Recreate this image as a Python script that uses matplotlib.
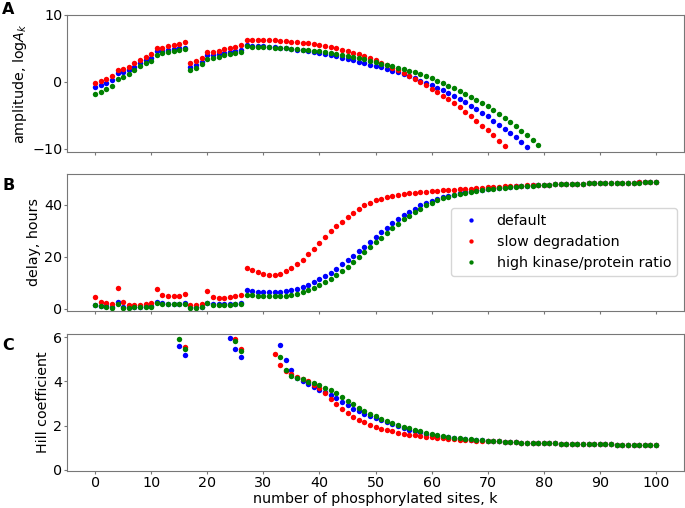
import numpy as np
import matplotlib
matplotlib.use("Agg")
import matplotlib.pyplot as plt

nan = np.nan

# panel A: log amplitude (k = 0, 1, 2, ...)
amp_default = [-0.75, -0.55, -0.15, 0.25, 1.35, 1.5, 1.75, 2.25, 2.75, 3.25,
               3.6, 4.55, 4.6, 4.75, 4.85, 5.0, 5.1, 2.2, 2.5, 3.0,
               3.95, 4.0, 4.15, 4.3, 4.45, 4.65, 4.7, 5.5, 5.36, 5.31,
               5.26, 5.21, 5.16, 5.06, 4.96, 4.86, 4.76, 4.66, 4.51, 4.36,
               4.21, 4.06, 3.91, 3.76, 3.56, 3.36, 3.16, 2.96, 2.76, 2.56,
               2.32, 2.12, 1.87, 1.62, 1.37, 1.07, 0.77, 0.47, 0.12, -0.17,
               -0.52, -0.92, -1.32, -1.72, -2.17, -2.61, -3.11, -3.61, -4.11, -4.66,
               -5.21, -5.81, -6.41, -7.01, -7.65, -8.30, -9.00, -9.70]
amp_slow = [-0.25, 0.1, 0.35, 0.8, 1.75, 1.9, 2.25, 2.75, 3.2, 3.7,
            4.15, 5.0, 5.1, 5.3, 5.5, 5.7, 5.95, 2.75, 3.1, 3.55,
            4.45, 4.5, 4.65, 4.85, 5.05, 5.25, 5.45, 6.25, 6.26, 6.26,
            6.21, 6.21, 6.16, 6.11, 6.06, 5.96, 5.86, 5.81, 5.71, 5.61,
            5.46, 5.31, 5.16, 4.96, 4.76, 4.56, 4.31, 4.06, 3.76, 3.51,
            3.16, 2.81, 2.46, 2.07, 1.67, 1.27, 0.82, 0.42, -0.02, -0.52,
            -1.07, -1.57, -2.12, -2.66, -3.26, -3.86, -4.51, -5.16, -5.86, -6.56,
            -7.26, -8.00, -8.80, -9.55]
amp_kinase = [-1.8, -1.5, -1.1, -0.65, 0.4, 0.65, 1.2, 1.75, 2.3, 2.8,
              3.15, 4.05, 4.25, 4.4, 4.6, 4.75, 4.95, 1.7, 2.1, 2.65,
              3.4, 3.6, 3.75, 4.0, 4.15, 4.3, 4.5, 5.3, 5.21, 5.21,
              5.16, 5.11, 5.06, 5.01, 4.96, 4.91, 4.86, 4.76, 4.71, 4.61,
              4.51, 4.41, 4.31, 4.16, 4.01, 3.86, 3.71, 3.51, 3.31, 3.11,
              2.91, 2.71, 2.46, 2.27, 2.07, 1.87, 1.62, 1.37, 1.07, 0.77,
              0.47, 0.12, -0.22, -0.62, -1.02, -1.42, -1.87, -2.32, -2.76, -3.21,
              -3.71, -4.26, -4.81, -5.41, -6.01, -6.61, -7.31, -8.00, -8.70, -9.45]

# panel B: delay in hours, k = 0..100
delay_default = [1.6, 1.2, 1.0, 0.7, 2.6, 0.7, 0.7, 0.8, 0.8, 1.0,
                 1.0, 2.7, 2.1, 2.0, 2.0, 2.0, 2.1, 0.7, 0.7, 0.8,
                 2.4, 1.7, 1.7, 1.7, 1.8, 1.9, 2.1, 7.1, 6.8, 6.6,
                 6.4, 6.3, 6.3, 6.4, 6.7, 7.1, 7.7, 8.4, 9.3, 10.3,
                 11.3, 12.6, 13.9, 15.4, 17.1, 18.8, 20.5, 22.1, 23.9, 25.7,
                 27.7, 29.5, 31.1, 32.9, 34.5, 36.0, 37.3, 38.6, 39.8, 40.7,
                 41.6, 42.3, 43.0, 43.5, 44.0, 44.4, 44.8, 45.2, 45.6, 45.9,
                 46.2, 46.4, 46.6, 46.8, 47.0, 47.1, 47.2, 47.4, 47.5, 47.6,
                 47.7, 47.8, 47.9, 48.0, 48.0, 48.1, 48.2, 48.2, 48.3, 48.3,
                 48.4, 48.4, 48.5, 48.5, 48.5, 48.6, 48.6, 48.7, 48.7, 48.7, 48.8]
delay_slow = [4.5, 2.8, 2.4, 1.9, 8.2, 2.6, 1.4, 1.4, 1.5, 1.9,
              2.2, 7.5, 5.3, 4.8, 4.8, 5.1, 5.7, 1.4, 1.5, 1.9,
              6.7, 4.4, 4.1, 4.2, 4.5, 4.9, 5.5, 15.9, 14.9, 14.1,
              13.4, 13.0, 13.0, 13.5, 14.4, 15.7, 17.2, 18.9, 21.0, 23.2,
              25.5, 27.7, 29.8, 31.9, 33.6, 35.2, 36.8, 38.4, 39.8, 40.8,
              41.7, 42.3, 42.9, 43.4, 43.8, 44.1, 44.4, 44.7, 44.9, 45.0,
              45.3, 45.4, 45.6, 45.8, 45.9, 46.1, 46.2, 46.3, 46.5, 46.6,
              46.8, 46.9, 47.0, 47.1, 47.2, 47.3, 47.4, 47.5, 47.6, 47.7,
              47.8, 47.8, 47.9, 48.0, 48.0, 48.1, 48.2, 48.2, 48.3, 48.3,
              48.4, 48.4, 48.5, 48.5, 48.5, 48.6, 48.6, 48.7, 48.7, 48.7, 48.8]
delay_kinase = [1.4, 1.0, 0.8, 0.5, 1.9, 0.5, 0.5, 0.6, 0.6, 0.8,
                0.8, 2.4, 1.8, 1.8, 1.8, 1.8, 1.8, 0.5, 0.5, 0.6,
                2.1, 1.4, 1.4, 1.4, 1.5, 1.7, 1.8, 5.4, 5.3, 5.0,
                4.9, 4.8, 4.8, 4.9, 5.0, 5.3, 5.8, 6.4, 7.2, 8.1,
                9.1, 10.3, 11.6, 13.0, 14.5, 16.2, 18.0, 19.8, 21.8, 23.7,
                25.6, 27.4, 29.2, 31.0, 32.7, 34.4, 35.9, 37.3, 38.6, 39.8,
                40.8, 41.7, 42.5, 43.1, 43.8, 44.3, 44.7, 45.0, 45.4, 45.8,
                46.1, 46.3, 46.5, 46.7, 46.9, 47.0, 47.2, 47.3, 47.4, 47.5,
                47.7, 47.8, 47.9, 47.9, 48.0, 48.1, 48.1, 48.2, 48.3, 48.3,
                48.4, 48.4, 48.4, 48.5, 48.5, 48.6, 48.6, 48.6, 48.7, 48.7, 48.8]

# panel C: Hill coefficient, k = 0..100 (nan = not defined)
hill_default = ([nan] * 15 + [5.58, 5.17] + [nan] * 7 + [5.97, 5.47, 5.09] + [nan] * 6 +
                [5.65, 4.98, 4.52, 4.17, 4.03, 3.89, 3.76,
                 3.62, 3.50, 3.36, 3.23, 3.06, 2.91, 2.76, 2.65, 2.52, 2.41,
                 2.32, 2.23, 2.14, 2.05, 1.97, 1.89, 1.82, 1.76, 1.70, 1.64,
                 1.59, 1.55, 1.50, 1.47, 1.44, 1.41, 1.39, 1.37, 1.35, 1.33,
                 1.31, 1.29, 1.28, 1.26, 1.25, 1.24, 1.23, 1.22, 1.21, 1.21,
                 1.20, 1.19, 1.19, 1.18, 1.18, 1.17, 1.17, 1.16, 1.16, 1.16,
                 1.15, 1.15, 1.15, 1.14, 1.14, 1.14, 1.13, 1.13, 1.13, 1.12, 1.12])
hill_slow = ([nan] * 16 + [5.56] + [nan] * 8 + [5.92, 5.48] + [nan] * 5 +
             [5.24, 4.74, 4.47, 4.33, 4.20, 4.12, 4.02, 3.85,
              3.68, 3.45, 3.21, 2.97, 2.77, 2.58, 2.39, 2.27, 2.14, 2.03,
              1.94, 1.86, 1.80, 1.74, 1.68, 1.64, 1.59, 1.56, 1.53, 1.50,
              1.47, 1.44, 1.42, 1.39, 1.38, 1.36, 1.35, 1.33, 1.32, 1.31,
              1.30, 1.29, 1.28, 1.26, 1.25, 1.24, 1.23, 1.22, 1.21, 1.21,
              1.20, 1.19, 1.19, 1.18, 1.18, 1.17, 1.17, 1.16, 1.16, 1.16,
              1.15, 1.15, 1.15, 1.14, 1.14, 1.14, 1.13, 1.13, 1.13, 1.12, 1.12])
hill_kinase = ([nan] * 15 + [5.92, 5.47] + [nan] * 8 + [5.83, 5.39] + [nan] * 6 +
               [5.12, 4.53, 4.26, 4.17, 4.09, 3.98, 3.91,
                3.82, 3.71, 3.59, 3.47, 3.30, 3.12, 2.97, 2.80, 2.65, 2.53,
                2.41, 2.30, 2.21, 2.12, 2.03, 1.95, 1.88, 1.80, 1.74, 1.68,
                1.62, 1.56, 1.52, 1.48, 1.45, 1.42, 1.39, 1.38, 1.35, 1.33,
                1.31, 1.29, 1.28, 1.26, 1.25, 1.24, 1.23, 1.22, 1.21, 1.21,
                1.20, 1.19, 1.19, 1.18, 1.18, 1.17, 1.17, 1.16, 1.16, 1.16,
                1.15, 1.15, 1.15, 1.14, 1.14, 1.14, 1.13, 1.13, 1.13, 1.12, 1.12])

labels = ["default", "slow degradation", "high kinase/protein ratio"]
colors = ["blue", "red", "green"]

plt.rcParams["font.size"] = 10.3
plt.rcParams["axes.edgecolor"] = "#777777"
plt.rcParams["axes.labelpad"] = 2.5
plt.rcParams["xtick.color"] = "#777777"
plt.rcParams["ytick.color"] = "#777777"
plt.rcParams["xtick.labelcolor"] = "black"
plt.rcParams["ytick.labelcolor"] = "black"
plt.rcParams["xtick.major.size"] = 2
plt.rcParams["ytick.major.size"] = 2
plt.rcParams["xtick.major.pad"] = 1.5
plt.rcParams["ytick.major.pad"] = 1.5

fig = plt.figure(figsize=(6.85, 5.08), dpi=100)
axA = fig.add_axes([0.098, 0.701, 0.9005, 0.270])
axB = fig.add_axes([0.098, 0.388, 0.9005, 0.270])
axC = fig.add_axes([0.098, 0.073, 0.9005, 0.270])


def dots(ax, series):
    for ys, c, lab in zip(series, colors, labels):
        ax.plot(np.arange(len(ys)), ys, "o", color=c, ms=3.9, mew=0, label=lab)


dots(axA, [amp_default, amp_slow, amp_kinase])
dots(axB, [delay_default, delay_slow, delay_kinase])
dots(axC, [hill_default, hill_slow, hill_kinase])

ticks = np.arange(0, 101, 10)
for ax in (axA, axB, axC):
    ax.set_xlim(-5, 105)
    ax.set_xticks(ticks)
axA.set_xticklabels([])
axB.set_xticklabels([])

axA.set_ylim(-10.5, 10)
axA.set_yticks([-10, 0, 10])
axA.set_ylabel(r"amplitude, log$A_k$")

axB.set_ylim(-0.8, 52)
axB.set_yticks([0, 20, 40])
axB.set_ylabel("delay, hours")
axB.legend(loc="center right", numpoints=1, markerscale=0.8)

axC.set_ylim(-0.05, 6.15)
axC.set_yticks([0, 2, 4, 6])
axC.set_ylabel("Hill coefficient")
axC.set_xlabel("number of phosphorylated sites, k", labelpad=1.5)

# panel letters, placed in figure pixels from the top-left
for t, ypix in zip("ABC", (10, 185, 346)):
    fig.text(2 / 685, 1 - ypix / 508, t, fontsize=11.5, fontweight="bold",
             va="center", ha="left")

fig.savefig("out.png", dpi=100)
